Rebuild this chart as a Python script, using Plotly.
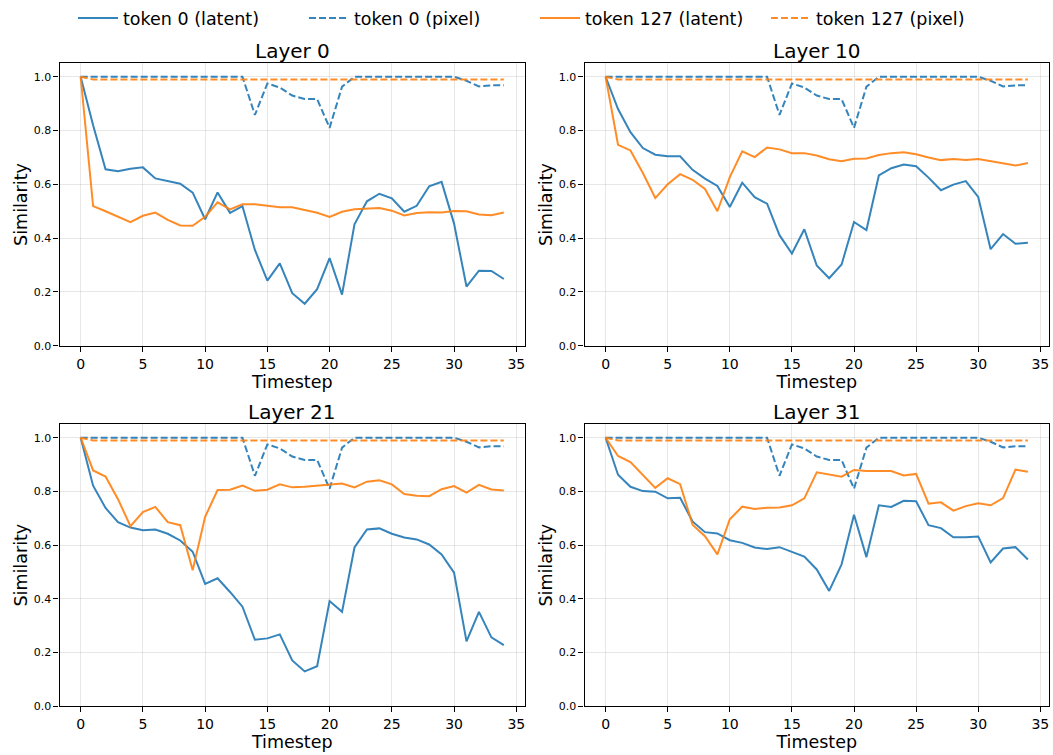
import plotly.graph_objects as go

timesteps = list(range(35))

# pixel-space similarity (same in all panels)
tok0_pixel = [1.0]*14 + [0.858, 0.975, 0.96, 0.93, 0.917, 0.917, 0.81, 0.963] + [1.0]*9 + [0.985, 0.964, 0.968, 0.968]
tok127_pixel = [1.0] + [0.99]*34

layer0_tok0 = [1.0, 0.82, 0.656, 0.649, 0.658, 0.663, 0.622, 0.611, 0.602, 0.569,
               0.470, 0.570, 0.494, 0.519, 0.356, 0.242, 0.306, 0.195, 0.156, 0.21,
               0.326, 0.19, 0.451, 0.537, 0.565, 0.548, 0.498, 0.520, 0.593, 0.609,
               0.454, 0.22, 0.279, 0.278, 0.248]
layer0_tok127 = [1.0, 0.519, 0.5, 0.478, 0.459, 0.483, 0.495, 0.468, 0.447, 0.446,
                 0.479, 0.533, 0.507, 0.526, 0.526, 0.52, 0.515, 0.515, 0.504, 0.494,
                 0.479, 0.498, 0.507, 0.509, 0.512, 0.502, 0.484, 0.493, 0.496, 0.495,
                 0.501, 0.5, 0.488, 0.485, 0.495]

layer10_tok0 = [1.0, 0.88, 0.794, 0.735, 0.71, 0.704, 0.704, 0.654, 0.621, 0.594,
                0.516, 0.606, 0.552, 0.528, 0.411, 0.343, 0.433, 0.298, 0.251, 0.302,
                0.46, 0.43, 0.633, 0.66, 0.674, 0.667, 0.625, 0.578, 0.599, 0.612,
                0.553, 0.359, 0.415, 0.379, 0.383]
layer10_tok127 = [1.0, 0.747, 0.726, 0.642, 0.549, 0.6, 0.638, 0.617, 0.583, 0.5,
                  0.627, 0.723, 0.701, 0.737, 0.73, 0.716, 0.716, 0.707, 0.693, 0.686,
                  0.695, 0.696, 0.709, 0.716, 0.719, 0.712, 0.7, 0.69, 0.694, 0.69,
                  0.694, 0.686, 0.679, 0.67, 0.679]

layer21_tok0 = [1.0, 0.821, 0.738, 0.685, 0.665, 0.655, 0.658, 0.642, 0.617, 0.575,
                0.455, 0.476, 0.425, 0.37, 0.247, 0.252, 0.267, 0.17, 0.129, 0.148,
                0.391, 0.351, 0.591, 0.658, 0.662, 0.642, 0.628, 0.621, 0.602, 0.565,
                0.497, 0.241, 0.351, 0.256, 0.227]
layer21_tok127 = [1.0, 0.878, 0.855, 0.771, 0.67, 0.723, 0.742, 0.685, 0.674, 0.506,
                  0.705, 0.805, 0.806, 0.822, 0.802, 0.806, 0.826, 0.815, 0.817, 0.821,
                  0.827, 0.829, 0.815, 0.836, 0.841, 0.826, 0.79, 0.784, 0.782, 0.808,
                  0.82, 0.795, 0.824, 0.807, 0.803]

layer31_tok0 = [1.0, 0.862, 0.817, 0.801, 0.799, 0.774, 0.776, 0.688, 0.648, 0.643,
                0.618, 0.608, 0.591, 0.585, 0.592, 0.575, 0.557, 0.509, 0.429, 0.528,
                0.713, 0.555, 0.748, 0.742, 0.765, 0.763, 0.674, 0.663, 0.629, 0.629,
                0.632, 0.535, 0.587, 0.592, 0.546]
layer31_tok127 = [1.0, 0.932, 0.909, 0.86, 0.813, 0.849, 0.827, 0.676, 0.633, 0.565,
                  0.696, 0.743, 0.734, 0.739, 0.74, 0.748, 0.774, 0.871, 0.864, 0.855,
                  0.88, 0.876, 0.876, 0.876, 0.859, 0.865, 0.754, 0.759, 0.728, 0.745,
                  0.756, 0.748, 0.775, 0.881, 0.873]

panel_titles = ["Layer 0", "Layer 10", "Layer 21", "Layer 31"]
latent_tok0 = [layer0_tok0, layer10_tok0, layer21_tok0, layer31_tok0]
latent_tok127 = [layer0_tok127, layer10_tok127, layer21_tok127, layer31_tok127]
series_names = ["token 0 (latent)", "token 0 (pixel)", "token 127 (latent)", "token 127 (pixel)"]

x_ticks = [0, 5, 10, 15, 20, 25, 30, 35]
y_ticks = [0.0, 0.2, 0.4, 0.6, 0.8, 1.0]

W, H = 1053, 755
BLUE = "rgba(31,119,180,0.9)"
ORANGE = "rgba(255,127,14,0.9)"
FONT = "DejaVu Sans"

xdoms = [[59.5 / W, 525 / W], [584.5 / W, 1049 / W]]
ydoms = [[1 - 345.7 / H, 1 - 63.3 / H], [1 - 706 / H, 1 - 424.3 / H]]

fig = go.Figure()

for i in range(4):
    r, c = divmod(i, 2)
    ax = "" if i == 0 else str(i + 1)
    xa, ya = "x" + ax, "y" + ax
    specs = [
        (latent_tok0[i], BLUE, "solid", series_names[0]),
        (tok0_pixel, BLUE, "7px,3px", series_names[1]),
        (latent_tok127[i], ORANGE, "solid", series_names[2]),
        (tok127_pixel, ORANGE, "7px,3px", series_names[3]),
    ]
    for vals, col, dash, name in specs:
        fig.add_trace(go.Scatter(
            x=timesteps, y=vals, mode="lines", name=name,
            line=dict(color=col, width=2, dash=dash),
            xaxis=xa, yaxis=ya, showlegend=(i == 0), hoverinfo="skip"))
    common = dict(showline=True, linecolor="#000000", linewidth=1.1, mirror=True,
                  ticks="outside", ticklen=5, tickwidth=1.1, tickcolor="#000000",
                  showgrid=True, gridcolor="rgba(176,176,176,0.3)", gridwidth=1,
                  zeroline=False, automargin=False)
    fig.layout["xaxis" + ax] = dict(
        domain=xdoms[c], anchor=ya, range=[-1.7, 35.7], tickvals=x_ticks,
        tickfont=dict(size=14, family=FONT, color="#000000"),
        title=dict(text="Timestep", font=dict(size=17.5, family=FONT, color="#000000"), standoff=4),
        **common)
    fig.layout["yaxis" + ax] = dict(
        domain=ydoms[r], anchor=xa, range=[0, 1.05], tickvals=y_ticks,
        tickformat=".1f",
        tickfont=dict(size=11, family=FONT, color="#000000"),
        title=dict(text="Similarity", font=dict(size=17.5, family=FONT, color="#000000"), standoff=1),
        **common)
    fig.add_annotation(
        text=panel_titles[i], xref="paper", yref="paper",
        x=(xdoms[c][0] + xdoms[c][1]) / 2, y=ydoms[r][1],
        xanchor="center", yanchor="bottom", showarrow=False, yshift=-2,
        font=dict(size=20, family=FONT, color="#000000"))

fig.update_layout(
    width=W, height=H,
    margin=dict(l=0, r=0, t=0, b=0),
    paper_bgcolor="white", plot_bgcolor="white",
    font=dict(family=FONT, color="#000000"),
    showlegend=True,
    legend=dict(orientation="h", x=73 / W, xanchor="left", y=1.0, yanchor="top",
                font=dict(size=17.5, family=FONT, color="#000000"),
                itemwidth=40, entrywidth=176, entrywidthmode="pixels",
                bgcolor="rgba(0,0,0,0)"),
)

fig.write_html("out.html")
